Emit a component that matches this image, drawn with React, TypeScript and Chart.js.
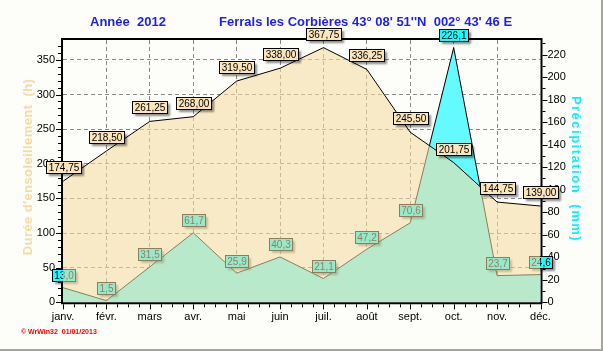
import React, { useEffect, useRef } from 'react';
import { Chart, registerables } from 'chart.js';

Chart.register(...registerables);

// ---- data ----
const months = ['janv.', 'févr.', 'mars', 'avr.', 'mai', 'juin', 'juil.', 'août', 'sept.', 'oct.', 'nov.', 'déc.'];
const sunshineHours = [174.75, 218.5, 261.25, 268.0, 319.5, 338.0, 367.75, 336.25, 245.5, 201.75, 144.75, 139.0];
const precipitationMm = [13.0, 1.5, 31.5, 61.7, 25.9, 40.3, 21.1, 47.2, 70.6, 226.1, 23.7, 24.6];
const titleYear = 'Année  2012';
const titleStation = "Ferrals les Corbières 43° 08' 51''N  002° 43' 46 E";
const leftAxisTitle = "Durée d'ensoleillement  (h)";
const rightAxisTitle = 'Précipitation  (mm)';
const footerText = '© WrWin32  01/01/2013';

// ---- styles ----
const FONT = '"Liberation Sans", Arial, sans-serif';
const CYAN_FILL = 'rgb(100,250,255)';
const CYAN_LABEL = 'rgb(30,248,255)';
const SUN_FILL = 'rgba(246,219,161,0.57)';
const SUN_LABEL = 'rgb(251,229,186)';
const GRID = '#8a8a8a';
const W = 601;
const H = 349;

function drawLabel(ctx: CanvasRenderingContext2D, text: string, x: number, yBottom: number, bg: string) {
  ctx.save();
  ctx.font = `10px ${FONT}`;
  const w = Math.round(ctx.measureText(text).width + 4);
  const h = 12;
  const left = Math.round(x - w / 2) + 0.5;
  const top = Math.round(yBottom - h) + 0.5;
  ctx.shadowColor = 'rgba(0,0,0,0.45)';
  ctx.shadowOffsetX = 2;
  ctx.shadowOffsetY = 2;
  ctx.shadowBlur = 2;
  ctx.fillStyle = bg;
  ctx.fillRect(left, top, w, h);
  ctx.shadowColor = 'rgba(0,0,0,0)';
  ctx.strokeStyle = '#000';
  ctx.lineWidth = 1;
  ctx.strokeRect(left, top, w, h);
  ctx.fillStyle = '#000';
  ctx.textAlign = 'center';
  ctx.textBaseline = 'middle';
  ctx.fillText(text, left + w / 2, top + h / 2 + 0.5);
  ctx.restore();
}

const decorPlugin = {
  id: 'decor',
  beforeDatasetsDraw(chart: any) {
    const ctx: CanvasRenderingContext2D = chart.ctx;
    const { left, right, top, bottom } = chart.chartArea;
    const xs = chart.scales.x;
    const ys = chart.scales.y;
    const y1 = chart.scales.y1;
    ctx.save();
    ctx.strokeStyle = '#000';
    ctx.lineWidth = 2;
    ctx.beginPath();
    ctx.moveTo(left - 2, top - 1);
    ctx.lineTo(right + 2, top - 1);
    ctx.moveTo(left - 1, top - 2);
    ctx.lineTo(left - 1, bottom + 2);
    ctx.moveTo(right + 1, top - 2);
    ctx.lineTo(right + 1, bottom + 2);
    ctx.moveTo(left - 2, bottom + 1);
    ctx.lineTo(right + 2, bottom + 1);
    ctx.stroke();
    ctx.lineWidth = 1;
    ctx.beginPath();
    for (let v = 0; v <= ys.max; v += 10) {
      const y = Math.round(ys.getPixelForValue(v)) + 0.5;
      const len = v % 50 === 0 ? 5 : 3;
      ctx.moveTo(left - 2 - len, y);
      ctx.lineTo(left - 2, y);
    }
    for (let v = 0; v <= y1.max; v += 10) {
      const y = Math.round(y1.getPixelForValue(v)) + 0.5;
      const len = v % 20 === 0 ? 5 : 3;
      ctx.moveTo(right + 2, y);
      ctx.lineTo(right + 2 + len, y);
    }
    for (let i = 0; i < months.length; i++) {
      const x = Math.round(xs.getPixelForValue(i)) + 0.5;
      ctx.moveTo(x, bottom + 2);
      ctx.lineTo(x, bottom + 7);
      if (i < months.length - 1) {
        const nx = xs.getPixelForValue(i + 1);
        for (let k = 1; k < 4; k++) {
          const mx = Math.round(x + ((nx - x) * k) / 4) + 0.5;
          ctx.moveTo(mx, bottom + 2);
          ctx.lineTo(mx, bottom + 5);
        }
      }
    }
    ctx.stroke();
    ctx.restore();
  },
  afterDatasetDraw(chart: any, args: any) {
    if (args.index !== 1) return;
    const ctx: CanvasRenderingContext2D = chart.ctx;
    const pts = chart.getDatasetMeta(1).data;
    pts.forEach((p: any, i: number) => {
      const txt = precipitationMm[i].toFixed(1).replace('.', ',');
      drawLabel(ctx, txt, p.x, p.y - 6.5, CYAN_LABEL);
    });
  },
  afterDatasetsDraw(chart: any) {
    const ctx: CanvasRenderingContext2D = chart.ctx;
    const pts = chart.getDatasetMeta(0).data;
    pts.forEach((p: any, i: number) => {
      const txt = sunshineHours[i].toFixed(2).replace('.', ',');
      drawLabel(ctx, txt, p.x, p.y - 8, SUN_LABEL);
    });
  },
  afterDraw(chart: any) {
    const ctx: CanvasRenderingContext2D = chart.ctx;
    ctx.save();
    ctx.fillStyle = 'rgb(30,30,240)';
    ctx.font = `bold 13px ${FONT}`;
    ctx.textAlign = 'left';
    ctx.textBaseline = 'middle';
    ctx.fillText(titleYear, 90, 22);
    ctx.fillText(titleStation, 219, 22);
    ctx.save();
    ctx.translate(28, 167);
    ctx.rotate(-Math.PI / 2);
    ctx.fillStyle = 'rgb(248,218,160)';
    ctx.font = `bold 13px ${FONT}`;
    (ctx as any).letterSpacing = '0.4px';
    ctx.textAlign = 'center';
    ctx.textBaseline = 'middle';
    ctx.fillText(leftAxisTitle, 0, 0);
    ctx.restore();
    ctx.save();
    ctx.translate(576, 169);
    ctx.rotate(Math.PI / 2);
    ctx.fillStyle = 'rgb(10,240,255)';
    ctx.font = `bold 13px ${FONT}`;
    (ctx as any).letterSpacing = '1.5px';
    ctx.textAlign = 'center';
    ctx.textBaseline = 'middle';
    ctx.fillText(rightAxisTitle, 0, 0);
    ctx.restore();
    ctx.fillStyle = '#ff0000';
    ctx.font = `bold 7px ${FONT}`;
    ctx.textAlign = 'left';
    ctx.textBaseline = 'middle';
    ctx.fillText(footerText, 21, 332);
    ctx.restore();
  },
};

export default function App() {
  const ref = useRef<HTMLCanvasElement | null>(null);
  useEffect(() => {
    if (!ref.current) return;
    const sunMax = Math.max(...sunshineHours) * 1.03;
    const rainMax = Math.max(...precipitationMm) * 1.03;
    const chart = new Chart(ref.current, {
      type: 'line',
      data: {
        labels: months,
        datasets: [
          {
            label: 'Ensoleillement',
            data: sunshineHours,
            yAxisID: 'y',
            borderColor: '#000',
            borderWidth: 1,
            backgroundColor: SUN_FILL,
            fill: 'origin',
            pointRadius: 0,
            tension: 0,
            order: 1,
          },
          {
            label: 'Précipitation',
            data: precipitationMm,
            yAxisID: 'y1',
            borderColor: '#000',
            borderWidth: 1,
            backgroundColor: CYAN_FILL,
            fill: 'origin',
            pointRadius: 0,
            tension: 0,
            order: 2,
          },
        ],
      },
      options: {
        responsive: false,
        animation: false,
        devicePixelRatio: 1,
        layout: { padding: { top: 40, left: 0, right: 0, bottom: 0 } },
        plugins: { legend: { display: false }, title: { display: false }, tooltip: { enabled: false } },
        scales: {
          x: {
            type: 'category',
            offset: false,
            grid: {
              drawTicks: false,
              color: (c: any) => (c.index === 0 || c.index === months.length - 1 ? 'rgba(0,0,0,0)' : GRID),
            },
            border: { display: false, dash: [4, 3] },
            ticks: { color: '#000', font: { family: FONT, size: 11 }, padding: 8, maxRotation: 0, autoSkip: false },
            afterFit: (s: any) => {
              s.height = H - 302.3;
            },
          },
          y: {
            position: 'left',
            min: 0,
            max: sunMax,
            grid: {
              drawTicks: false,
              color: (c: any) => (c.tick && c.tick.value === 0 ? 'rgba(0,0,0,0)' : GRID),
            },
            border: { display: false, dash: [4, 3] },
            ticks: { stepSize: 50, includeBounds: false, color: '#000', font: { family: FONT, size: 11 }, padding: 8 },
            afterFit: (s: any) => {
              s.width = 63;
            },
          },
          y1: {
            position: 'right',
            min: 0,
            max: rainMax,
            grid: { display: false, drawTicks: false },
            border: { display: false },
            ticks: { stepSize: 20, includeBounds: false, color: '#000', font: { family: FONT, size: 11 }, padding: 7 },
            afterFit: (s: any) => {
              s.width = W - 540.5;
            },
          },
        },
      },
      plugins: [decorPlugin],
    } as any);
    return () => chart.destroy();
  }, []);
  return (
    <div
      style={{
        position: 'absolute',
        left: 0,
        top: 0,
        width: W,
        height: H,
        background: '#fdfdf9',
        borderRight: '2px solid #a4a49c',
        borderBottom: '2px solid #a4a49c',
      }}
    >
      <canvas ref={ref} width={W} height={H} style={{ display: 'block', width: W, height: H }} />
    </div>
  );
}
